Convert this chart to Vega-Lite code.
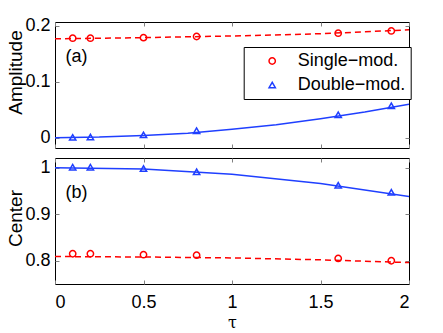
{
  "$schema": "https://vega.github.io/schema/vega-lite/v6.json",
  "padding": {"left": 5, "top": 16, "right": 30, "bottom": 3},
  "background": "white",
  "bounds": "flush",
  "config": {
    "font": "Liberation Sans",
    "view": {"stroke": "black", "strokeWidth": 1},
    "axis": {
      "labelFont": "Liberation Sans",
      "labelFontSize": 18,
      "labelColor": "black",
      "titleFont": "Liberation Sans",
      "titleFontSize": 19,
      "titleFontWeight": "normal",
      "titleColor": "black",
      "grid": false,
      "domain": false,
      "tickColor": "#808080",
      "tickSize": -4,
      "labelPadding": 9
    },
    "legend": {
      "labelFont": "Liberation Sans",
      "labelFontSize": 18,
      "labelColor": "black"
    }
  },
  "datasets": {
    "points": [
      {"tau": 0.1, "value": 0.178, "series": "Single−mod.", "panel": "a"},
      {"tau": 0.2, "value": 0.178, "series": "Single−mod.", "panel": "a"},
      {"tau": 0.5, "value": 0.179, "series": "Single−mod.", "panel": "a"},
      {"tau": 0.8, "value": 0.181, "series": "Single−mod.", "panel": "a"},
      {"tau": 1.6, "value": 0.187, "series": "Single−mod.", "panel": "a"},
      {"tau": 1.9, "value": 0.191, "series": "Single−mod.", "panel": "a"},
      {"tau": 0.1, "value": 0.0005, "series": "Double−mod.", "panel": "a"},
      {"tau": 0.2, "value": 0.001, "series": "Double−mod.", "panel": "a"},
      {"tau": 0.5, "value": 0.005, "series": "Double−mod.", "panel": "a"},
      {"tau": 0.8, "value": 0.0125, "series": "Double−mod.", "panel": "a"},
      {"tau": 1.6, "value": 0.041, "series": "Double−mod.", "panel": "a"},
      {"tau": 1.9, "value": 0.057, "series": "Double−mod.", "panel": "a"},
      {"tau": 0.1, "value": 0.815, "series": "Single−mod.", "panel": "b"},
      {"tau": 0.2, "value": 0.815, "series": "Single−mod.", "panel": "b"},
      {"tau": 0.5, "value": 0.813, "series": "Single−mod.", "panel": "b"},
      {"tau": 0.8, "value": 0.812, "series": "Single−mod.", "panel": "b"},
      {"tau": 1.6, "value": 0.805, "series": "Single−mod.", "panel": "b"},
      {"tau": 1.9, "value": 0.8, "series": "Single−mod.", "panel": "b"},
      {"tau": 0.1, "value": 1.001, "series": "Double−mod.", "panel": "b"},
      {"tau": 0.2, "value": 1.001, "series": "Double−mod.", "panel": "b"},
      {"tau": 0.5, "value": 0.998, "series": "Double−mod.", "panel": "b"},
      {"tau": 0.8, "value": 0.991, "series": "Double−mod.", "panel": "b"},
      {"tau": 1.6, "value": 0.962, "series": "Double−mod.", "panel": "b"},
      {"tau": 1.9, "value": 0.947, "series": "Double−mod.", "panel": "b"}
    ],
    "curves": [
      {"tau": 0, "value": 0.177, "series": "Single−mod.", "panel": "a"},
      {"tau": 0.5, "value": 0.179, "series": "Single−mod.", "panel": "a"},
      {"tau": 1, "value": 0.182, "series": "Single−mod.", "panel": "a"},
      {"tau": 1.5, "value": 0.186, "series": "Single−mod.", "panel": "a"},
      {"tau": 2, "value": 0.193, "series": "Single−mod.", "panel": "a"},
      {"tau": 0, "value": 0.0, "series": "Double−mod.", "panel": "a"},
      {"tau": 0.25, "value": 0.001, "series": "Double−mod.", "panel": "a"},
      {"tau": 0.5, "value": 0.004, "series": "Double−mod.", "panel": "a"},
      {"tau": 0.75, "value": 0.008, "series": "Double−mod.", "panel": "a"},
      {"tau": 1, "value": 0.015, "series": "Double−mod.", "panel": "a"},
      {"tau": 1.25, "value": 0.023, "series": "Double−mod.", "panel": "a"},
      {"tau": 1.5, "value": 0.034, "series": "Double−mod.", "panel": "a"},
      {"tau": 1.75, "value": 0.046, "series": "Double−mod.", "panel": "a"},
      {"tau": 2, "value": 0.06, "series": "Double−mod.", "panel": "a"},
      {"tau": 0, "value": 0.809, "series": "Single−mod.", "panel": "b"},
      {"tau": 0.5, "value": 0.808, "series": "Single−mod.", "panel": "b"},
      {"tau": 1, "value": 0.806, "series": "Single−mod.", "panel": "b"},
      {"tau": 1.5, "value": 0.802, "series": "Single−mod.", "panel": "b"},
      {"tau": 2, "value": 0.796, "series": "Single−mod.", "panel": "b"},
      {"tau": 0, "value": 1.0, "series": "Double−mod.", "panel": "b"},
      {"tau": 0.5, "value": 0.997, "series": "Double−mod.", "panel": "b"},
      {"tau": 1, "value": 0.986, "series": "Double−mod.", "panel": "b"},
      {"tau": 1.5, "value": 0.966, "series": "Double−mod.", "panel": "b"},
      {"tau": 2, "value": 0.938, "series": "Double−mod.", "panel": "b"}
    ],
    "labels": [
      {"tau": 0.06, "value": 0.145, "label": "(a)", "panel": "a"},
      {"tau": 0.06, "value": 0.945, "label": "(b)", "panel": "b"}
    ]
  },
  "spacing": 10,
  "vconcat": [
    {
      "width": 354,
      "height": 126,
      "resolve": {"axis": {"x": "independent", "y": "independent"}},
      "encoding": {
        "x": {"field": "tau", "type": "quantitative", "scale": {"domain": [0, 2], "nice": false}, "axis": null},
        "y": {"field": "value", "type": "quantitative", "scale": {"domain": [-0.0185, 0.207], "nice": false, "zero": false}, "axis": null}
      },
      "layer": [
        {
          "data": {"name": "curves"},
          "transform": [{"filter": "datum.panel === 'a' && datum.series === 'Single−mod.'"}],
          "mark": {"type": "line", "color": "#ff0000", "strokeWidth": 1.5, "strokeDash": [6, 4], "clip": true},
          "encoding": {
            "x": {"field": "tau", "type": "quantitative", "scale": {"domain": [0, 2], "nice": false},
                  "axis": {"values": [0, 0.5, 1, 1.5, 2], "labels": false, "title": null}},
            "y": {"field": "value", "type": "quantitative", "scale": {"domain": [-0.0185, 0.207], "nice": false, "zero": false},
                  "axis": {"values": [0, 0.1, 0.2], "format": "~g", "title": "Amplitude", "titleX": -30, "titleY": 50}}
          }
        },
        {
          "data": {"name": "curves"},
          "transform": [{"filter": "datum.panel === 'a' && datum.series === 'Double−mod.'"}],
          "mark": {"type": "line", "color": "#1f3fff", "strokeWidth": 1.5, "clip": true}
        },
        {
          "data": {"name": "points"},
          "transform": [{"filter": "datum.panel === 'a'"}],
          "mark": {"type": "point", "filled": false, "strokeWidth": 1.5, "size": 40, "opacity": 1},
          "encoding": {
            "color": {"field": "series", "type": "nominal",
              "scale": {"domain": ["Single−mod.", "Double−mod."], "range": ["#ff0000", "#1f3fff"]},
              "legend": {"title": null, "orient": "none", "legendX": 188.7, "legendY": 25,
                "strokeColor": "black", "fillColor": "white", "padding": 5, "rowPadding": 6,
                "symbolOffset": 14.5, "labelOffset": 16.5, "symbolStrokeWidth": 1.5, "symbolSize": 40}},
            "shape": {"field": "series", "type": "nominal",
              "scale": {"domain": ["Single−mod.", "Double−mod."], "range": ["circle", "triangle-up"]},
              "legend": null}
          }
        },
        {
          "data": {"name": "labels"},
          "transform": [{"filter": "datum.panel === 'a'"}],
          "mark": {"type": "text", "fontSize": 18, "align": "left", "baseline": "middle", "font": "Liberation Sans", "color": "black"},
          "encoding": {
            "text": {"field": "label", "type": "nominal"},
            "x": {"field": "tau", "type": "quantitative", "scale": {"domain": [0, 2], "nice": false},
                  "axis": {"orient": "top", "values": [0, 0.5, 1, 1.5, 2], "labels": false, "title": null}},
            "y": {"field": "value", "type": "quantitative", "scale": {"domain": [-0.0185, 0.207], "nice": false, "zero": false},
                  "axis": {"orient": "right", "values": [0, 0.1, 0.2], "labels": false, "title": null}}
          }
        }
      ]
    },
    {
      "width": 354,
      "height": 126,
      "resolve": {"axis": {"x": "independent", "y": "independent"}},
      "encoding": {
        "x": {"field": "tau", "type": "quantitative", "scale": {"domain": [0, 2], "nice": false}, "axis": null},
        "y": {"field": "value", "type": "quantitative", "scale": {"domain": [0.75, 1.0207], "nice": false, "zero": false}, "axis": null}
      },
      "layer": [
        {
          "data": {"name": "curves"},
          "transform": [{"filter": "datum.panel === 'b' && datum.series === 'Single−mod.'"}],
          "mark": {"type": "line", "color": "#ff0000", "strokeWidth": 1.5, "strokeDash": [6, 4], "clip": true},
          "encoding": {
            "x": {"field": "tau", "type": "quantitative", "scale": {"domain": [0, 2], "nice": false},
                  "axis": {"values": [0, 0.5, 1, 1.5, 2], "format": "~g", "labelPadding": 13, "title": "τ", "titleFont": "DejaVu Serif", "titleFontSize": 16, "titlePadding": 3}},
            "y": {"field": "value", "type": "quantitative", "scale": {"domain": [0.75, 1.0207], "nice": false, "zero": false},
                  "axis": {"values": [0.8, 0.9, 1], "format": "~g", "title": "Center", "titleX": -30, "titleY": 60}}
          }
        },
        {
          "data": {"name": "curves"},
          "transform": [{"filter": "datum.panel === 'b' && datum.series === 'Double−mod.'"}],
          "mark": {"type": "line", "color": "#1f3fff", "strokeWidth": 1.5, "clip": true}
        },
        {
          "data": {"name": "points"},
          "transform": [{"filter": "datum.panel === 'b'"}],
          "mark": {"type": "point", "filled": false, "strokeWidth": 1.5, "size": 40, "opacity": 1},
          "encoding": {
            "color": {"field": "series", "type": "nominal",
              "scale": {"domain": ["Single−mod.", "Double−mod."], "range": ["#ff0000", "#1f3fff"]},
              "legend": null},
            "shape": {"field": "series", "type": "nominal",
              "scale": {"domain": ["Single−mod.", "Double−mod."], "range": ["circle", "triangle-up"]},
              "legend": null}
          }
        },
        {
          "data": {"name": "labels"},
          "transform": [{"filter": "datum.panel === 'b'"}],
          "mark": {"type": "text", "fontSize": 18, "align": "left", "baseline": "middle", "font": "Liberation Sans", "color": "black"},
          "encoding": {
            "text": {"field": "label", "type": "nominal"},
            "x": {"field": "tau", "type": "quantitative", "scale": {"domain": [0, 2], "nice": false},
                  "axis": {"orient": "top", "values": [0, 0.5, 1, 1.5, 2], "labels": false, "title": null}},
            "y": {"field": "value", "type": "quantitative", "scale": {"domain": [0.75, 1.0207], "nice": false, "zero": false},
                  "axis": {"orient": "right", "values": [0.8, 0.9, 1], "labels": false, "title": null}}
          }
        }
      ]
    }
  ],
  "resolve": {"scale": {"color": "independent", "shape": "independent"}}
}
